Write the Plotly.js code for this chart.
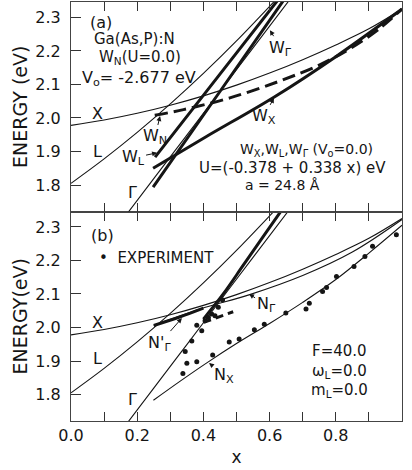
<!DOCTYPE html>
<html>
<head>
<meta charset="utf-8">
<script src="https://cdn.plot.ly/plotly-3.0.1.min.js"></script>
<style>
  html, body { margin: 0; padding: 0; background: #fff; }
  #chart { width: 412px; height: 470px; }
</style>
</head>
<body>
<div id="chart"></div>
<script>
// Composition axis: labelled ticks every 0.2, minor ticks every 0.1
const xTickVals = [0, 0.2, 0.4, 0.6, 0.8, 1.0];
const xTickText = ['0.0', '0.2', '0.4', '0.6', '0.8', '1.0'];
const yTickVals = [1.8, 1.9, 2.0, 2.1, 2.2, 2.3];
const yTickText = ['1.8', '1.9', '2.0', '2.1', '2.2', '2.3'];

// Conduction band edges (eV) vs x
const bandXx = [0, 0.1, 0.2, 0.3, 0.4, 0.5, 0.6, 0.7, 0.8, 0.9, 1.0];
const bandXe = [1.978, 1.994, 2.014, 2.038, 2.066, 2.098, 2.134, 2.174, 2.218, 2.266, 2.325];
const bandLx = [0, 0.1, 0.2, 0.3, 0.4, 0.5, 0.6, 0.64];
const bandLe = [1.805, 1.878, 1.957, 2.042, 2.133, 2.230, 2.333, 2.375];
const bandGx = [0.16, 0.25, 0.35, 0.45, 0.55, 0.66];
const bandGe = [1.702, 1.819, 1.949, 2.079, 2.209, 2.352];

// Panel (a): bound-state levels
const wNx = [0.253, 0.34, 0.48, 0.63, 0.75, 0.84, 0.93, 1.0];
const wNe = [2.008, 2.025, 2.060, 2.110, 2.158, 2.205, 2.265, 2.325];
const wXx = [0.248, 0.408, 0.613, 0.8, 1.0];
const wXe = [1.850, 1.944, 2.062, 2.183, 2.325];
const wLx = [0.254, 0.45, 0.63];
const wLe = [1.883, 2.131, 2.358];
const wGx = [0.248, 0.45, 0.645];
const wGe = [1.794, 2.079, 2.355];

// Panel (b): coupled N levels
const nGx = [0.25, 0.39, 0.54, 0.7, 0.85, 1.0];
const nGe = [2.006, 2.055, 2.098, 2.155, 2.225, 2.322];
const npGx = [0.25, 0.33, 0.40];
const npGe = [2.006, 2.032, 2.058];
const gMx = [0.40, 0.46, 0.52, 0.58, 0.64];
const gMe = [2.025, 2.100, 2.185, 2.270, 2.355];
const nXx = [0.249, 0.33, 0.408, 0.5, 0.6, 0.7, 0.8, 0.9, 1.0];
const nXe = [1.783, 1.840, 1.893, 1.952, 2.012, 2.075, 2.143, 2.222, 2.305];
const segDx = [0.40, 0.49];
const segDe = [2.015, 2.047];

// Experimental points
const expX = [0.338, 0.350, 0.380, 0.428, 0.478, 0.508, 0.554, 0.584, 0.649, 0.710, 0.720,
              0.760, 0.772, 0.802, 0.855, 0.888, 0.911, 0.983,
              0.345, 0.365, 0.380, 0.395, 0.405, 0.415, 0.425, 0.435, 0.445, 0.458];
const expE = [1.863, 1.893, 1.898, 1.918, 1.957, 1.966, 1.993, 2.010, 2.043, 2.055, 2.072,
              2.107, 2.119, 2.152, 2.182, 2.212, 2.242, 2.277,
              1.928, 1.960, 2.007, 1.990, 2.020, 2.030, 2.040, 2.035, 2.060, 2.082];

const INK = '#151515';
const THIN = 1.1, THICK = 3;
const FONT = 'DejaVu Sans, Liberation Sans, sans-serif';

function curve(x, y, xa, ya, w, dash) {
  return {
    x: x, y: y, xaxis: xa, yaxis: ya, type: 'scatter', mode: 'lines',
    line: { color: INK, width: w, shape: 'spline', smoothing: 1, dash: dash || 'solid' },
    hoverinfo: 'skip', showlegend: false
  };
}

const traces = [
  // (a)
  curve(bandXx, bandXe, 'x2', 'y2', THIN),
  curve(bandLx, bandLe, 'x2', 'y2', THIN),
  curve(bandGx, bandGe, 'x2', 'y2', THIN),
  curve(wNx, wNe, 'x2', 'y2', THICK, '13px,6px'),
  curve(wXx, wXe, 'x2', 'y2', THICK),
  curve(wLx, wLe, 'x2', 'y2', THICK),
  curve(wGx, wGe, 'x2', 'y2', THICK),
  // (b)
  curve(bandXx, bandXe, 'x', 'y', THIN),
  curve(bandLx, bandLe, 'x', 'y', THIN),
  curve(bandGx, bandGe, 'x', 'y', THIN),
  curve(nGx, nGe, 'x', 'y', THIN),
  curve(npGx, npGe, 'x', 'y', THICK),
  curve(gMx, gMe, 'x', 'y', THICK),
  curve(nXx, nXe, 'x', 'y', THIN),
  curve(segDx, segDe, 'x', 'y', THICK, '8px,5px'),
  {
    x: expX, y: expE, xaxis: 'x', yaxis: 'y', type: 'scatter', mode: 'markers',
    marker: { color: INK, size: 5 }, hoverinfo: 'skip', showlegend: false
  }
];

const yRange = [1.721, 2.346];

function xAxis(showLabels, anchor) {
  return {
    domain: [0, 1], anchor: anchor, range: [0, 1.0],
    tickmode: 'array', tickvals: xTickVals, ticktext: xTickText,
    showticklabels: showLabels,
    ticks: 'inside', ticklen: 9, tickwidth: 1, tickcolor: '#333',
    minor: { ticks: 'inside', ticklen: 9, tickwidth: 1, tickcolor: '#333', tick0: 0, dtick: 0.1, showgrid: false },
    showline: true, linecolor: '#444', linewidth: 1, mirror: 'ticks',
    showgrid: false, zeroline: false,
    tickfont: { family: FONT, size: 16, color: INK }
  };
}
function yAxis(title, domain, anchor) {
  return {
    domain: domain, anchor: anchor, range: yRange,
    tickmode: 'array', tickvals: yTickVals, ticktext: yTickText,
    ticks: 'inside', ticklen: 10, tickwidth: 1, tickcolor: '#333',
    showline: true, linecolor: '#444', linewidth: 1, mirror: true,
    showgrid: false, zeroline: false,
    tickfont: { family: FONT, size: 16, color: INK },
    ticklabelstandoff: 6,
    title: { text: title, font: { family: FONT, size: 19, color: INK }, standoff: 2 }
  };
}

const xa = xAxis(true, 'y');
xa.title = { text: 'x', font: { family: FONT, size: 17, color: INK }, standoff: 6 };
const xa2 = xAxis(false, 'y2');

function label(text, x, y, xr, yr, size, xanchor) {
  return {
    text: text, x: x, y: y, xref: xr, yref: yr, showarrow: false,
    xanchor: xanchor || 'center', yanchor: 'middle',
    font: { family: FONT, size: size || 16, color: INK }
  };
}
// Label with a short pointer: (x, y) is the tip, (ax, ay) the label offset in px
function pointer(text, x, y, ax, ay, xr, yr) {
  return {
    text: text, x: x, y: y, ax: ax, ay: ay, xref: xr, yref: yr,
    showarrow: true, arrowhead: 2, arrowsize: 1, arrowwidth: 1, arrowcolor: INK,
    standoff: 0, startstandoff: 0,
    font: { family: FONT, size: 16, color: INK }
  };
}

const annotations = [
  // (a)
  label('(a)', 0.091, 2.286, 'x2', 'y2'),
  label('Ga(As,P):N', 0.193, 2.236, 'x2', 'y2', 15),
  label('W<sub>N</sub>(U=0.0)', 0.208, 2.179, 'x2', 'y2', 15),
  label('V<sub>o</sub>= -2.677 eV', 0.204, 2.119, 'x2', 'y2', 16),
  label('X', 0.079, 2.012, 'x2', 'y2'),
  label('L', 0.079, 1.899, 'x2', 'y2'),
  label('Γ', 0.187, 1.779, 'x2', 'y2'),
  pointer('W<sub>N</sub>', 0.269, 2.006, -5, 21, 'x2', 'y2'),
  pointer('W<sub>L</sub>', 0.26, 1.896, -24, 5, 'x2', 'y2'),
  pointer('W<sub>Γ</sub>', 0.601, 2.262, 11, 18, 'x2', 'y2'),
  pointer('W<sub>X</sub>', 0.613, 2.060, -10, 19, 'x2', 'y2'),
  label('W<sub>X</sub>,W<sub>L</sub>,W<sub>Γ</sub> (V<sub>o</sub>=0.0)', 0.71, 1.903, 'x2', 'y2', 14),
  label('U=(-0.378 + 0.338 x) eV', 0.668, 1.852, 'x2', 'y2', 15),
  label('a = 24.8 Å', 0.640, 1.799, 'x2', 'y2', 14),
  // (b)
  label('(b)', 0.094, 2.273, 'x', 'y'),
  label('•  EXPERIMENT', 0.079, 2.207, 'x', 'y', 15, 'left'),
  label('X', 0.079, 2.016, 'x', 'y'),
  label('L', 0.079, 1.906, 'x', 'y'),
  label('Γ', 0.187, 1.784, 'x', 'y'),
  pointer('N\'<sub>Γ</sub>', 0.335, 2.028, -22, 25, 'x', 'y'),
  pointer('N<sub>Γ</sub>', 0.538, 2.100, 17, 11, 'x', 'y'),
  pointer('N<sub>X</sub>', 0.417, 1.894, 15, 12, 'x', 'y'),
  label('F=40.0', 0.81, 1.929, 'x', 'y', 15),
  label('ω<sub>L</sub>=0.0', 0.81, 1.870, 'x', 'y', 15),
  label('m<sub>L</sub>=0.0', 0.81, 1.811, 'x', 'y', 15)
];

const layout = {
  width: 412, height: 470,
  margin: { l: 71, r: 10, t: 2, b: 49 },
  paper_bgcolor: '#fff', plot_bgcolor: '#fff',
  showlegend: false,
  xaxis: xa,
  xaxis2: xa2,
  yaxis: yAxis('ENERGY(eV)', [0, 0.5], 'x'),
  yaxis2: yAxis('ENERGY (eV)', [0.5, 1], 'x2'),
  annotations: annotations
};

Plotly.newPlot('chart', traces, layout, { staticPlot: true, displayModeBar: false });
</script>
</body>
</html>
